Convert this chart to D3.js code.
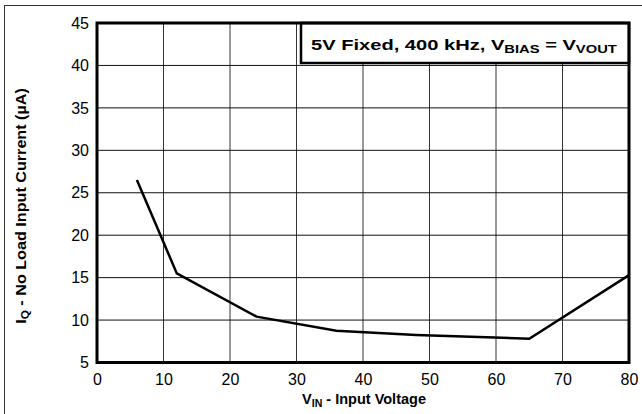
<!DOCTYPE html>
<html><head><meta charset="utf-8">
<script src="https://cdn.jsdelivr.net/npm/d3@7"></script>
<style>body{margin:0;background:#fff}svg{display:block}text{font-family:"Liberation Sans",Arial,sans-serif}</style>
</head><body>
<script>
const vin = [6, 12, 24, 36, 48, 65, 80];
const iq = [26.5, 15.5, 10.4, 8.75, 8.25, 7.8, 15.3];
const xTicks = [0,10,20,30,40,50,60,70,80];
const yTicks = [5,10,15,20,25,30,35,40,45];

const W = 642, H = 414;
const svg = d3.select("body").append("svg").attr("width", W).attr("height", H);
const m = {l:97, r:629, t:23, b:362.5};
const x = d3.scaleLinear().domain([0,80]).range([m.l, m.r]);
const y = d3.scaleLinear().domain([5,45]).range([m.b, m.t]);

function stretch(sel, targetW, ax, ay) {
  const w = sel.node().getComputedTextLength();
  const s = targetW / w;
  return s;
}

// outer frame
svg.append("rect").attr("x",4.5).attr("y",5.5).attr("width",700).attr("height",500)
  .attr("fill","none").attr("stroke","#333").attr("stroke-width",1);

// grid
svg.append("g").selectAll("line").data(xTicks).join("line")
  .attr("x1",d=>x(d)).attr("x2",d=>x(d)).attr("y1",m.t).attr("y2",m.b)
  .attr("stroke","#333").attr("stroke-width",1);
svg.append("g").selectAll("line").data(yTicks).join("line")
  .attr("x1",m.l).attr("x2",m.r).attr("y1",d=>y(d)).attr("y2",d=>y(d))
  .attr("stroke","#111").attr("stroke-width",1);

// axes labels
const xa = svg.append("g").attr("transform",`translate(0,${m.b})`)
  .call(d3.axisBottom(x).tickValues(xTicks).tickSize(0).tickPadding(11));
xa.select(".domain").remove();
xa.selectAll("text").attr("font-size",16).attr("fill","#000").attr("font-family","Liberation Sans, Arial, sans-serif");
const ya = svg.append("g").attr("transform",`translate(${m.l},0)`)
  .call(d3.axisLeft(y).tickValues(yTicks).tickSize(0).tickPadding(8));
ya.select(".domain").remove();
ya.selectAll("text").attr("font-size",16).attr("fill","#000").attr("font-family","Liberation Sans, Arial, sans-serif");

// line
svg.append("path").datum(vin.map((v,i)=>[v,iq[i]]))
  .attr("d", d3.line().x(d=>x(d[0])).y(d=>y(d[1])))
  .attr("fill","none").attr("stroke","#000").attr("stroke-width",2.5).attr("stroke-linejoin","miter");

// legend box
const lb = svg.append("g");
lb.append("rect").attr("x",301).attr("y",m.t).attr("width",m.r-301).attr("height",40)
  .attr("fill","#fff").attr("stroke","#000").attr("stroke-width",2.5);
const lt = lb.append("text").attr("x",0).attr("y",0).attr("font-size",15).attr("font-weight","bold");
lt.append("tspan").text("5V Fixed, 400 kHz, V");
lt.append("tspan").attr("font-size",11).attr("dy",3).text("BIAS");
lt.append("tspan").attr("dy",-3).text(" = V");
lt.append("tspan").attr("font-size",11).attr("dy",3).text("VOUT");
const s1 = stretch(lt, 306);
lt.attr("transform",`translate(311,50) scale(${s1},1)`);

// plot border
svg.append("rect").attr("x",m.l).attr("y",m.t).attr("width",m.r-m.l).attr("height",m.b-m.t)
  .attr("fill","none").attr("stroke","#000").attr("stroke-width",3);

// axis titles
const xt = svg.append("text").attr("x",0).attr("y",0).attr("text-anchor","middle")
  .attr("font-size",15).attr("font-weight","bold");
xt.append("tspan").text("V");
xt.append("tspan").attr("font-size",11).attr("dy",3).text("IN");
xt.append("tspan").attr("dy",-3).text(" - Input Voltage");
xt.attr("transform",`translate(364,404) scale(${stretch(xt,124)},1)`);

const yt = svg.append("text").attr("x",0).attr("y",0).attr("text-anchor","middle")
  .attr("font-size",15).attr("font-weight","bold");
yt.append("tspan").text("I");
yt.append("tspan").attr("font-size",11).attr("dy",3).text("Q");
yt.append("tspan").attr("dy",-3).text(" - No Load Input Current (µA)");
yt.attr("transform",`translate(26,206) rotate(-90) scale(${stretch(yt,236)},1)`);
</script>
</body></html>
